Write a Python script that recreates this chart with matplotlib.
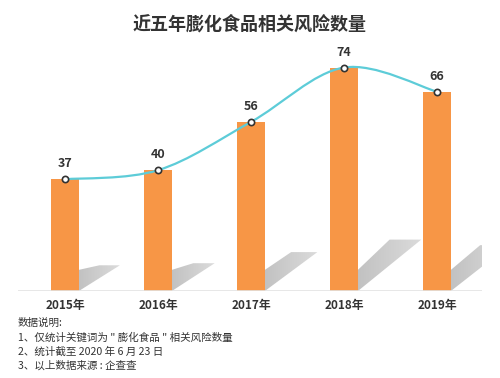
import numpy as np
import matplotlib.pyplot as plt
from matplotlib.path import Path
from matplotlib.patches import PathPatch, Polygon

plt.rcParams['font.family'] = ['Noto Sans CJK SC', 'DejaVu Sans']

years = ['2015年', '2016年', '2017年', '2018年', '2019年']
counts = [37, 40, 56, 74, 66]
title = '近五年膨化食品相关风险数量'
notes = ['数据说明:',
         '1、仅统计关键词为 " 膨化食品 " 相关风险数量',
         '2、统计截至 2020 年 6 月 23 日',
         '3、以上数据来源 : 企查查']

BAR = '#F79646'
LINE = '#5DCCD8'
TXT = '#333333'


def smooth_path(xs, ys):
    # catmull-rom through the points, drawn as cubic bezier segments
    p = np.column_stack([xs, ys]).astype(float)
    ext = np.vstack([p[0], p, p[-1]])
    verts = [p[0]]
    codes = [Path.MOVETO]
    for i in range(len(p) - 1):
        p0, p1, p2, p3 = ext[i], ext[i + 1], ext[i + 2], ext[i + 3]
        verts += [p1 + (p2 - p0) / 6, p2 - (p3 - p1) / 6, p2]
        codes += [Path.CURVE4] * 3
    return Path(verts, codes)


def main():
    fig = plt.figure(figsize=(5, 3.78), dpi=100)
    ax = fig.add_axes([0.036, 0.2302, 0.928, 0.639])
    x = np.arange(len(years))
    w = 0.3

    # shadows behind bars: grey fading slightly towards the right
    g = np.linspace(0.76, 0.86, 64)
    grad = np.dstack([g, g, g, np.ones_like(g)]).reshape(1, -1, 4)
    for xi, v in zip(x, counts):
        x0 = xi + w / 2
        dx = 0.2 + 0.0065 * v
        r = 0.23 * v
        poly = Polygon([(x0, 0), (x0, 7), (x0 + 0.5 * dx, r), (x0 + dx, r),
                        (x0, 0)], closed=True, facecolor='none', edgecolor='none')
        ax.add_patch(poly)
        im = ax.imshow(grad, extent=[x0, x0 + dx, 0, r], aspect='auto',
                       zorder=1, interpolation='bilinear')
        im.set_clip_path(poly)

    ax.bar(x, counts, width=w, color=BAR, zorder=2)
    ax.axhline(0, color='#e3e3e3', lw=1.2, zorder=3)

    ax.add_patch(PathPatch(smooth_path(x, counts), facecolor='none',
                           edgecolor=LINE, lw=1.6, zorder=4))
    ax.plot(x, counts, 'o', ms=4.5, mfc='white', mec=TXT, mew=1.2, zorder=5)
    for xi, v in zip(x, counts):
        ax.text(xi, v + 3.0, str(v), ha='center', va='bottom', fontsize=9,
                fontweight='bold', color=TXT)

    ax.set_xlim(-0.505, 4.484)
    ax.set_ylim(0, 80)
    ax.set_xticks(x)
    ax.set_xticklabels(years, fontsize=8.5, fontweight='bold', color=TXT)
    ax.tick_params(axis='x', length=0, pad=6)
    ax.set_yticks([])
    for s in ax.spines.values():
        s.set_visible(False)

    fig.text(0.5, 1 - 24 / 378, title, ha='center', va='center',
             fontsize=13, fontweight='bold', color=TXT)
    for k, line in enumerate(notes):
        fig.text(18 / 500, 1 - (323 + 14.3 * k) / 378, line, ha='left',
                 va='center', fontsize=7.6, fontweight='medium', color=TXT)

    fig.savefig('out.png', dpi=100, facecolor='white')


if __name__ == '__main__':
    main()
